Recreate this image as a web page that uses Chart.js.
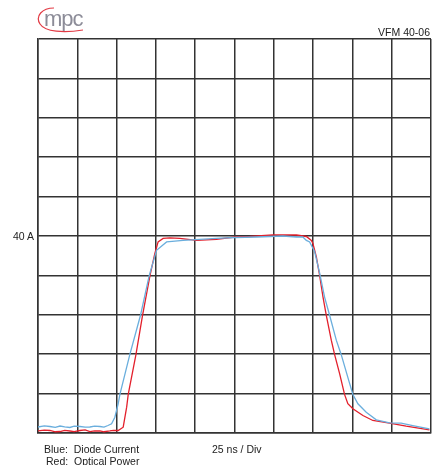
<!DOCTYPE html>
<html lang="en">
<head>
    <meta charset="UTF-8">
    <title>VFM 40-06</title>
    <script src="https://cdn.jsdelivr.net/npm/chart.js"></script>
    <style>
        body { margin: 0; background: #fff; font-family: "Liberation Sans", Arial, sans-serif; color: #222; }
        #wrap { position: relative; width: 437px; height: 465px; }
        #wrap canvas { position: absolute; left: 0; top: 0; }
        .lbl { position: absolute; font-size: 10.5px; line-height: 12px; white-space: pre; }
        #logo { position: absolute; left: 36px; top: 5px; width: 50px; height: 30px; }
        #logoText { position: absolute; left: 44px; top: 8px; font-size: 22px; line-height: 22px; color: #8c8c98; letter-spacing: -1px; }
    </style>
</head>
<body>
<div id="wrap">
    <canvas id="scope" width="437" height="465"></canvas>
    <svg id="logo" viewBox="0 0 50 30">
        <path d="M18 3 C 6 3, -1 11, 4 19 C 9 27, 28 28, 47 25" fill="none" stroke="#e23a44" stroke-width="1.2"/>
    </svg>
    <div id="logoText">mpc</div>
    <div class="lbl" style="right:7px; top:26px;">VFM 40-06</div>
    <div class="lbl" style="left:13px; top:230px;">40 A</div>
    <div class="lbl" style="left:44px; top:443px;">Blue:  Diode Current</div>
    <div class="lbl" style="left:46px; top:455px;">Red:  Optical Power</div>
    <div class="lbl" style="left:212px; top:443px;">25 ns / Div</div>
</div>

<script>
    // time in ns (25 ns / div), amplitude in A (8 A / div, 40 A at centre line)
    const blueTime = [0, 4, 7.6, 11, 14, 17, 20.3, 23, 26.7, 30, 33, 36, 39.4, 42, 44.5, 46.8, 48.9, 51, 52.1, 58.4, 65.2, 70.7, 75.4,
        81.8, 92.3, 102.9, 113.5, 125.2, 139, 155.8, 164.4, 168.5, 170.7, 172.8, 176, 179.2, 182.3, 185.5,
        189.8, 192.9, 197.1, 200.3, 203.5, 208.8, 215.2, 223.6, 231, 238.4, 249];
    const blueCurrent = [1.22, 1.45, 1.32, 1.15, 1.42, 1.25, 1.12, 1.38, 1.32, 1.18, 1.22, 1.40, 1.32, 1.20, 1.52, 1.87, 3.21, 5.94, 7.83, 15.9, 23.9, 31.9, 37.1,
        38.8, 39.1, 39.3, 39.5, 39.7, 39.8, 40.0, 39.8, 39.8, 39.1, 38.8, 36.8, 32.4, 27.6, 23.9,
        18.8, 15.9, 11.3, 7.83, 5.94, 4.23, 2.68, 2.07, 1.99, 1.52, 0.85];

    const redTime = [0, 4, 7.6, 11, 14, 17, 20.3, 23, 26.7, 30, 33, 36, 39.4, 42, 45.7, 48, 51, 54.2, 56.4, 57.4, 62.3, 66.5, 71.2, 74.3,
        76.4, 79.6, 83.9, 90.2, 100.8, 113.5, 125.2, 134.7, 149.3, 164.4, 170.7, 173.9, 174.9, 177.1, 179.2,
        181.3, 183.4, 186.6, 188.7, 191.9, 195.0, 197.1, 200.3, 206.7, 213, 223.6, 234.2, 249];
    const redPower = [0.41, 0.60, 0.51, 0.25, 0.30, 0.55, 0.41, 0.28, 0.51, 0.62, 0.30, 0.45, 0.41, 0.25, 0.41, 0.55, 0.51, 1.18, 5.25, 7.83, 15.9, 23.9, 31.9, 36.4,
        38.8, 39.5, 39.6, 39.5, 39.1, 39.3, 39.8, 39.9, 40.2, 40.2, 39.9, 39.1, 38.5, 35.7, 31.9,
        27.6, 23.9, 18.8, 15.9, 12.0, 7.83, 5.94, 4.92, 3.56, 2.54, 1.99, 1.38, 0.65];

    const toPoints = (xs, ys) => xs.map((x, i) => ({ x: x, y: ys[i] }));

    const gridColor = '#333333';

    new Chart(document.getElementById('scope').getContext('2d'), {
        type: 'line',
        data: {
            datasets: [
                {
                    label: 'Diode Current',
                    data: toPoints(blueTime, blueCurrent),
                    borderColor: '#6aaedd',
                    borderWidth: 1.3,
                    pointRadius: 0,
                    fill: false
                },
                {
                    label: 'Optical Power',
                    data: toPoints(redTime, redPower),
                    borderColor: '#e3202c',
                    borderWidth: 1.3,
                    pointRadius: 0,
                    fill: false
                }
            ]
        },
        options: {
            responsive: false,
            animation: false,
            layout: { padding: { left: 38, top: 39, right: 6, bottom: 32 } },
            plugins: { legend: { display: false }, tooltip: { enabled: false } },
            scales: {
                x: {
                    type: 'linear',
                    min: 0,
                    max: 250,
                    ticks: { display: false, stepSize: 25 },
                    grid: { color: gridColor, lineWidth: 1.5, drawTicks: false },
                    border: { color: gridColor, width: 1.5 }
                },
                y: {
                    min: 0,
                    max: 80,
                    ticks: { display: false, stepSize: 8 },
                    grid: { color: gridColor, lineWidth: 1.5, drawTicks: false },
                    border: { color: gridColor, width: 1.5 }
                }
            }
        }
    });
</script>
</body>
</html>
